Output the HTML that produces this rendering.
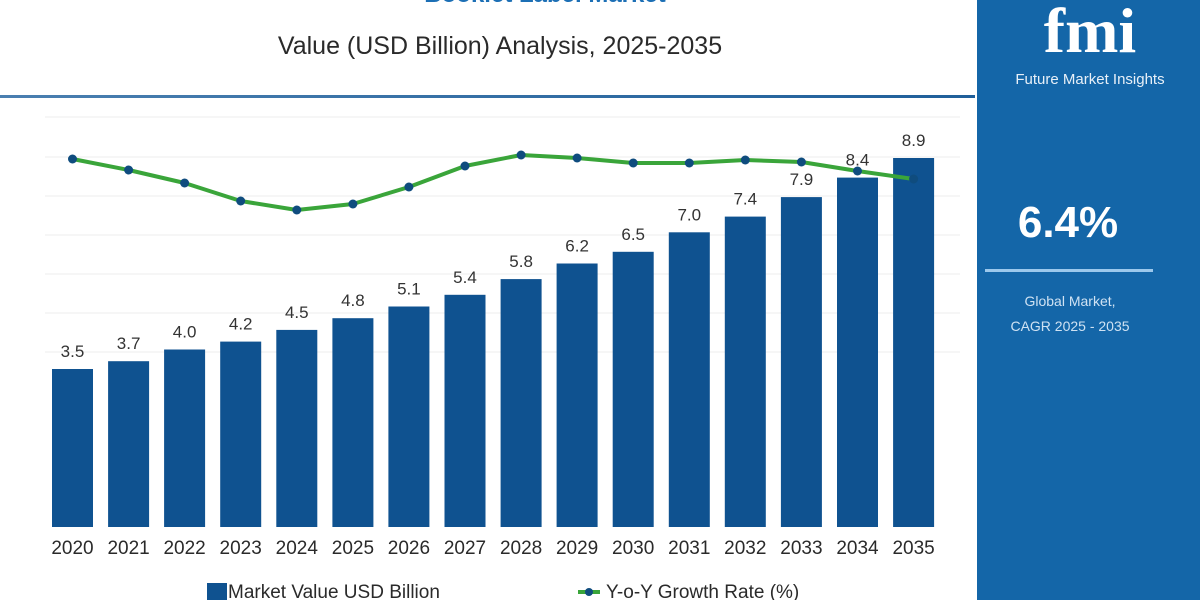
<!DOCTYPE html>
<html><head><meta charset="utf-8"><style>
html,body{margin:0;padding:0;background:#fff;}
body{width:1200px;height:600px;overflow:hidden;position:relative;font-family:"Liberation Sans",sans-serif;}
</style></head><body>
<svg width="1200" height="600" viewBox="0 0 1200 600" xmlns="http://www.w3.org/2000/svg" style="position:absolute;left:0;top:0">
<defs><linearGradient id="lg" x1="0" x2="1"><stop offset="0" stop-color="#4a7fb0"/><stop offset="1" stop-color="#1f5f9a"/></linearGradient></defs>
<text x="545" y="2" text-anchor="middle" font-size="24" font-weight="bold" fill="#1c6fb5">Booklet Label Market</text>
<text x="500" y="54" text-anchor="middle" font-size="25" fill="#2a2a2a">Value (USD Billion) Analysis, 2025-2035</text>
<rect x="0" y="95" width="975" height="3" fill="url(#lg)"/>
<g stroke="#ececec" stroke-width="1">
<line x1="45" x2="960" y1="117" y2="117"/><line x1="45" x2="960" y1="157" y2="157"/>
<line x1="45" x2="960" y1="196" y2="196"/><line x1="45" x2="960" y1="235" y2="235"/>
<line x1="45" x2="960" y1="274" y2="274"/><line x1="45" x2="960" y1="313" y2="313"/>
<line x1="45" x2="960" y1="352" y2="352"/>
</g>
<g fill="#0f5290">
<rect x="52" y="369" width="41" height="158"/>
<rect x="108.1" y="361.2" width="41" height="165.8"/>
<rect x="164.1" y="349.5" width="41" height="177.5"/>
<rect x="220.2" y="341.6" width="41" height="185.4"/>
<rect x="276.3" y="329.9" width="41" height="197.1"/>
<rect x="332.4" y="318.2" width="41" height="208.8"/>
<rect x="388.4" y="306.5" width="41" height="220.5"/>
<rect x="444.5" y="294.8" width="41" height="232.2"/>
<rect x="500.6" y="279.1" width="41" height="247.9"/>
<rect x="556.6" y="263.5" width="41" height="263.5"/>
<rect x="612.7" y="251.8" width="41" height="275.2"/>
<rect x="668.8" y="232.3" width="41" height="294.7"/>
<rect x="724.8" y="216.6" width="41" height="310.4"/>
<rect x="780.9" y="197.1" width="41" height="329.9"/>
<rect x="837" y="177.6" width="41" height="349.4"/>
<rect x="893.1" y="158" width="41" height="369"/>
</g>
<g font-size="17" fill="#333" text-anchor="middle">
<text x="72.5" y="357">3.5</text>
<text x="128.6" y="349.2">3.7</text>
<text x="184.6" y="337.5">4.0</text>
<text x="240.7" y="329.6">4.2</text>
<text x="296.8" y="317.9">4.5</text>
<text x="352.9" y="306.2">4.8</text>
<text x="408.9" y="294.5">5.1</text>
<text x="465" y="282.8">5.4</text>
<text x="521.1" y="267.1">5.8</text>
<text x="577.1" y="251.5">6.2</text>
<text x="633.2" y="239.8">6.5</text>
<text x="689.3" y="220.3">7.0</text>
<text x="745.3" y="204.6">7.4</text>
<text x="801.4" y="185.1">7.9</text>
<text x="857.5" y="165.6">8.4</text>
<text x="913.6" y="146">8.9</text>
</g>
<polyline fill="none" stroke="#3aa53a" stroke-width="4" stroke-linejoin="round" points="72.5,159 128.6,170 184.6,183 240.7,201 296.8,210 352.9,204 408.9,187 465,166 521.1,155 577.1,158 633.2,163 689.3,163 745.3,160 801.4,162 857.5,171 913.6,179"/>
<g fill="#0f4c7e">
<circle cx="72.5" cy="159" r="4.5"/><circle cx="128.6" cy="170" r="4.5"/><circle cx="184.6" cy="183" r="4.5"/><circle cx="240.7" cy="201" r="4.5"/>
<circle cx="296.8" cy="210" r="4.5"/><circle cx="352.9" cy="204" r="4.5"/><circle cx="408.9" cy="187" r="4.5"/><circle cx="465" cy="166" r="4.5"/>
<circle cx="521.1" cy="155" r="4.5"/><circle cx="577.1" cy="158" r="4.5"/><circle cx="633.2" cy="163" r="4.5"/><circle cx="689.3" cy="163" r="4.5"/>
<circle cx="745.3" cy="160" r="4.5"/><circle cx="801.4" cy="162" r="4.5"/><circle cx="857.5" cy="171" r="4.5"/><circle cx="913.6" cy="179" r="4.5"/>
</g>
<g font-size="19" fill="#2a2a2a" text-anchor="middle">
<text x="72.5" y="554">2020</text><text x="128.6" y="554">2021</text><text x="184.6" y="554">2022</text><text x="240.7" y="554">2023</text>
<text x="296.8" y="554">2024</text><text x="352.9" y="554">2025</text><text x="408.9" y="554">2026</text><text x="465" y="554">2027</text>
<text x="521.1" y="554">2028</text><text x="577.1" y="554">2029</text><text x="633.2" y="554">2030</text><text x="689.3" y="554">2031</text>
<text x="745.3" y="554">2032</text><text x="801.4" y="554">2033</text><text x="857.5" y="554">2034</text><text x="913.6" y="554">2035</text>
</g>
<rect x="207" y="583" width="20" height="17" fill="#0f5290"/>
<text x="228" y="598" font-size="19" fill="#2a2a2a">Market Value USD Billion</text>
<line x1="578" x2="600" y1="592" y2="592" stroke="#3aa53a" stroke-width="4"/>
<circle cx="589" cy="592" r="4" fill="#0f4c7e"/>
<text x="606" y="598" font-size="19" fill="#2a2a2a">Y-o-Y Growth Rate (%)</text>
<rect x="977" y="0" width="223" height="600" fill="#1466a8"/>
<text x="1090" y="52" text-anchor="middle" font-size="64" font-weight="bold" fill="#fff" font-family="Liberation Serif,serif">fmi</text>
<text x="1090" y="84" text-anchor="middle" font-size="15" fill="#e8f0f8">Future Market Insights</text>
<text x="1068" y="237" text-anchor="middle" font-size="44" font-weight="bold" fill="#fff">6.4%</text>
<rect x="985" y="269" width="168" height="3" fill="#9cc8ec"/>
<text x="1070" y="306" text-anchor="middle" font-size="14" fill="#cfe2f3">Global Market,</text>
<text x="1070" y="331" text-anchor="middle" font-size="14" fill="#cfe2f3">CAGR 2025 - 2035</text>
</svg>
</body></html>
